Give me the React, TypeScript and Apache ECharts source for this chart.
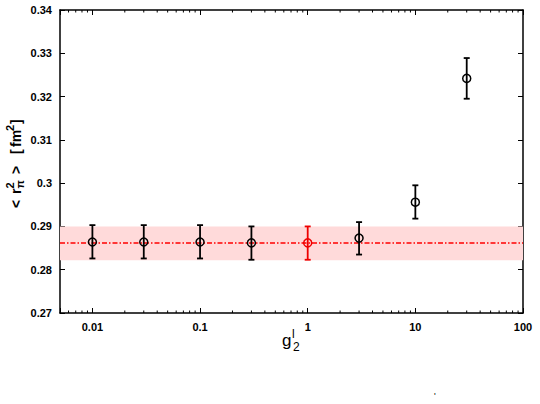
import React, { useEffect, useRef } from 'react';
import * as echarts from 'echarts';

// coupling values g_2^l (log axis) and the measured radius <r_pi^2> in fm^2
const couplings = [0.01, 0.03, 0.1, 0.3, 1, 3, 10, 30];
const radius = [0.2864, 0.2864, 0.2864, 0.2862, 0.2862, 0.2873, 0.2956, 0.3242];
const radiusLow = [0.2826, 0.2826, 0.2826, 0.2823, 0.2823, 0.2835, 0.2918, 0.3195];
const radiusHigh = [0.2903, 0.2903, 0.2903, 0.29, 0.29, 0.291, 0.2995, 0.3289];
const highlightCoupling = 1;

// chosen value and its error band
const fitValue = 0.2862;
const bandLow = 0.2822;
const bandHigh = 0.29;

// axes
const xMin = 0.005;
const xMax = 100;
const xLabels = [0.01, 0.1, 1, 10, 100];
const yMin = 0.27;
const yMax = 0.34;
const yStep = 0.01;

const FONT = '"Liberation Sans", Arial, Helvetica, sans-serif';
const RED = '#ee0000';

// minor ticks 2..9 within every decade
const minorTicks: number[] = [];
for (let e = -3; e <= 1; e++) {
  for (let m = 2; m <= 9; m++) {
    const v = m * Math.pow(10, e);
    if (v > xMin && v < xMax) minorTicks.push(v);
  }
}

const txt = (text: string, x: number, y: number, size: number, bold = false) => ({
  type: 'text',
  x,
  y,
  style: {
    text,
    fontSize: size,
    fontWeight: bold ? 'bold' : 'normal',
    fontFamily: FONT,
    fill: '#000',
    align: 'left',
    verticalAlign: 'middle',
    textAlign: 'left',
    textVerticalAlign: 'middle',
  },
});

const App: React.FC = () => {
  const chartRef = useRef<HTMLDivElement | null>(null);

  useEffect(() => {
    document.body.style.margin = '0';
    if (!chartRef.current) return;
    const chart = echarts.init(chartRef.current, undefined, { renderer: 'svg' });

    const axisLine = { show: true, onZero: false, lineStyle: { color: '#000', width: 1.5 } };

    const xAxisBase = {
      type: 'log',
      logBase: 10,
      min: xMin,
      max: xMax,
      axisLine,
      axisTick: { show: true, inside: true, length: 5, lineStyle: { color: '#000', width: 1 } },
      splitLine: { show: false },
      minorTick: { show: false },
    };
    const yAxisBase = {
      type: 'value',
      min: yMin,
      max: yMax,
      interval: yStep,
      axisLine,
      axisTick: { show: true, inside: true, length: 5, lineStyle: { color: '#000', width: 1 } },
      splitLine: { show: false },
    };

    const errData = couplings.map((g, i) => [g, radius[i], radiusLow[i], radiusHigh[i]]);

    const option = {
      animation: false,
      grid: { left: 60, right: 17, top: 10, bottom: 91, containLabel: false },
      xAxis: [
        {
          ...xAxisBase,
          position: 'bottom',
          axisLabel: {
            show: true,
            margin: 8,
            fontSize: 11,
            fontWeight: 'bold',
            fontFamily: FONT,
            color: '#000',
            formatter: (v: number) => {
              const hit = xLabels.find((l) => Math.abs(Math.log10(v) - Math.log10(l)) < 1e-6);
              return hit !== undefined ? String(hit) : '';
            },
          },
        },
        { ...xAxisBase, position: 'top', axisLabel: { show: false } },
      ],
      yAxis: [
        {
          ...yAxisBase,
          position: 'left',
          axisLabel: {
            show: true,
            margin: 8,
            fontSize: 11,
            fontWeight: 'bold',
            fontFamily: FONT,
            color: '#000',
            formatter: (v: number) => String(+v.toFixed(2)),
          },
        },
        { ...yAxisBase, position: 'right', axisLabel: { show: false } },
      ],
      series: [
        {
          // error band and central value
          type: 'custom',
          z: 1,
          silent: true,
          data: [[xMin, xMax, bandLow, bandHigh, fitValue]],
          renderItem: (_p: any, api: any) => {
            const x0 = api.value(0);
            const x1 = api.value(1);
            const a = api.coord([x0, api.value(3)]);
            const b = api.coord([x1, api.value(2)]);
            const m0 = api.coord([x0, api.value(4)]);
            const m1 = api.coord([x1, api.value(4)]);
            return {
              type: 'group',
              children: [
                { type: 'rect', shape: { x: a[0], y: a[1], width: b[0] - a[0], height: b[1] - a[1] }, style: { fill: '#ffdada' } },
                {
                  type: 'line',
                  shape: { x1: m0[0], y1: m0[1], x2: m1[0], y2: m1[1] },
                  style: { stroke: '#ff0000', lineWidth: 1.5, lineDash: [5, 2, 1.5, 2] },
                },
              ],
            };
          },
        },
        {
          type: 'custom',
          z: 3,
          silent: true,
          data: minorTicks.map((v) => [v, yMin]),
          renderItem: (_p: any, api: any) => {
            const v = api.value(0);
            const b = api.coord([v, yMin]);
            const t = api.coord([v, yMax]);
            const st = { stroke: '#000', lineWidth: 1 };
            return {
              type: 'group',
              children: [
                { type: 'line', shape: { x1: b[0], y1: b[1], x2: b[0], y2: b[1] - 2.5 }, style: st },
                { type: 'line', shape: { x1: t[0], y1: t[1], x2: t[0], y2: t[1] + 2.5 }, style: st },
              ],
            };
          },
        },
        {
          type: 'custom',
          z: 4,
          data: errData,
          renderItem: (_p: any, api: any) => {
            const g = api.value(0);
            const c = api.coord([g, api.value(1)]);
            const lo = api.coord([g, api.value(2)]);
            const hi = api.coord([g, api.value(3)]);
            const color = g === highlightCoupling ? RED : '#000';
            const st = { stroke: color, lineWidth: 1.8, fill: 'none' };
            const cap = 3;
            return {
              type: 'group',
              children: [
                { type: 'line', shape: { x1: c[0], y1: lo[1], x2: c[0], y2: hi[1] }, style: st },
                { type: 'line', shape: { x1: c[0] - cap, y1: lo[1], x2: c[0] + cap, y2: lo[1] }, style: st },
                { type: 'line', shape: { x1: c[0] - cap, y1: hi[1], x2: c[0] + cap, y2: hi[1] }, style: st },
                { type: 'circle', shape: { cx: c[0], cy: c[1], r: 4 }, style: { stroke: color, lineWidth: 1.5, fill: 'none' } },
              ],
            };
          },
        },
      ],
      graphic: [
        {
          type: 'group',
          x: 16,
          y: 208,
          rotation: Math.PI / 2,
          children: [
            txt('<', 0, 0, 14, true),
            txt('r', 14, 0, 14, true),
            txt('2', 19.5, -6, 11, true),
            txt('π', 19.5, 4, 11, true),
            txt('>', 34, 0, 14, true),
            txt('[', 54, 0, 14, true),
            txt('fm', 61, 0, 14, true),
            txt('2', 77, -6, 11, true),
            txt(']', 84, 0, 14, true),
          ],
        },
        txt('g', 282, 340, 17),
        txt('l', 292, 334, 12),
        txt('2', 293, 347, 12),
        txt('\'', 434, 396, 9),
      ],
    };

    chart.setOption(option as any);
    return () => {
      chart.dispose();
    };
  }, []);

  return <div ref={chartRef} style={{ width: 540, height: 404 }} />;
};

export default App;
